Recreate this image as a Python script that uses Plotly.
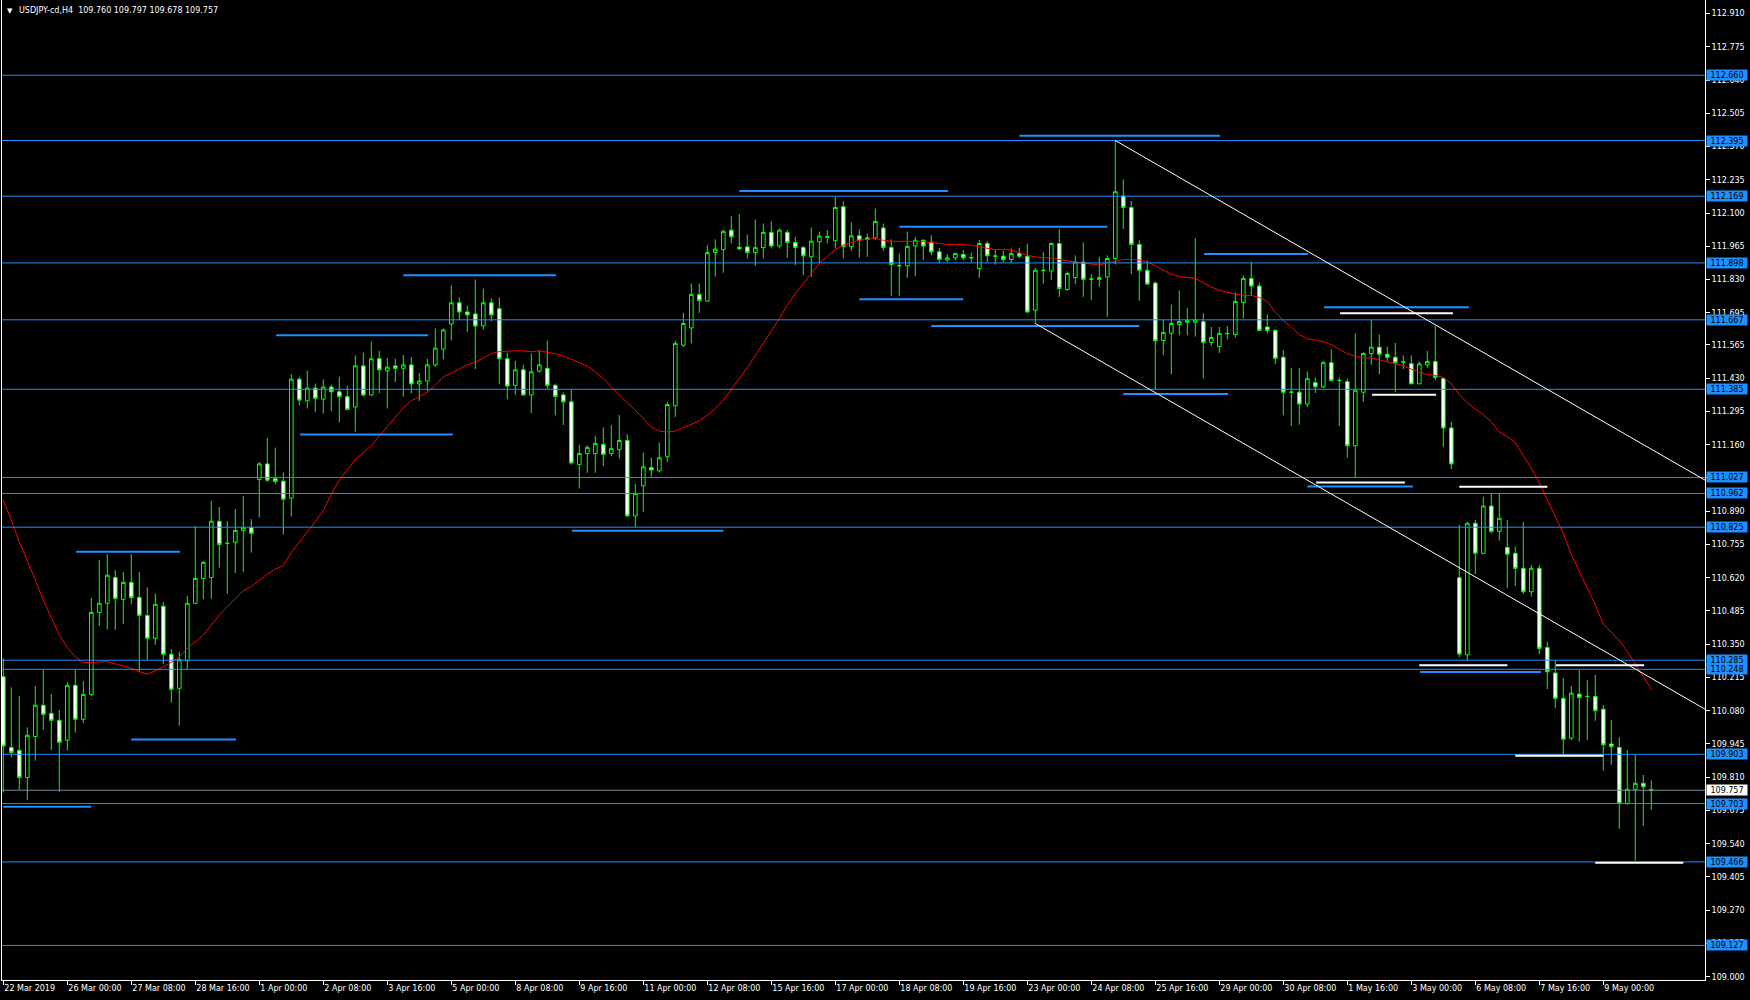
import plotly.graph_objects as go

SYMBOL = "USDJPY-cd,H4"

OPEN = [110.218,109.931,109.919,109.809,109.975,110.102,110.069,110.041,109.960,110.183,
110.045,110.146,110.479,110.516,110.621,110.532,110.601,110.540,110.467,110.374,
110.504,110.309,110.171,110.284,110.516,110.617,110.621,110.849,110.760,110.764,
110.812,110.823,111.019,111.082,111.022,111.012,110.943,111.426,111.338,111.390,
111.345,111.394,111.375,111.355,111.313,111.480,111.362,111.509,111.460,111.480,
111.470,111.484,111.407,111.419,111.484,111.548,111.650,111.736,111.699,111.691,
111.642,111.736,111.712,111.509,111.401,111.464,111.362,111.459,111.470,111.401,
111.362,111.334,111.080,111.124,111.124,111.161,111.124,111.140,111.177,110.871,
110.993,111.067,111.054,111.111,111.318,111.564,111.634,111.770,111.743,111.940,
111.952,112.031,111.962,111.963,111.940,111.960,112.022,111.967,112.022,111.981,
111.961,111.923,111.984,112.002,111.988,112.126,111.964,112.008,112.000,111.999,
112.040,111.961,111.886,111.886,111.967,111.990,111.983,111.943,111.910,111.919,
111.932,111.918,111.875,111.977,111.925,111.925,111.912,111.936,111.925,111.706,
111.866,111.865,111.977,111.790,111.839,111.902,111.831,111.831,111.841,111.916,
112.170,112.123,111.973,111.868,111.816,111.583,111.612,111.648,111.657,111.657,
111.660,111.575,111.558,111.611,111.607,111.737,111.835,111.804,111.638,111.624,
111.515,111.373,111.373,111.325,111.412,111.395,111.493,111.421,111.416,111.156,
111.373,111.530,111.556,111.527,111.515,111.496,111.489,111.407,111.484,111.498,
111.429,111.228,110.620,110.307,110.841,110.719,110.911,110.808,110.743,110.719,
110.658,110.563,110.658,110.337,110.233,110.130,109.968,110.147,110.138,110.138,
110.086,109.945,109.931,109.704,109.761,109.785,109.760]

HIGH = [110.293,110.175,110.140,110.012,110.180,110.245,110.148,110.083,110.196,110.245,
110.200,110.538,110.692,110.716,110.651,110.643,110.716,110.643,110.581,110.556,
110.521,110.330,110.320,110.546,110.830,110.688,110.932,110.907,110.850,110.899,
110.952,110.858,111.090,111.188,111.148,111.048,111.447,111.436,111.461,111.408,
111.425,111.404,111.436,111.400,111.522,111.534,111.579,111.541,111.512,111.509,
111.524,111.516,111.451,111.509,111.632,111.632,111.807,111.758,111.724,111.831,
111.794,111.754,111.758,111.534,111.500,111.484,111.530,111.544,111.583,111.408,
111.372,111.383,111.160,111.158,111.195,111.230,111.239,111.280,111.203,111.000,
111.128,111.107,111.169,111.334,111.582,111.695,111.814,111.814,111.970,111.994,
112.034,112.088,112.096,112.013,112.074,112.058,112.067,112.038,112.031,112.004,
111.966,112.042,112.024,112.031,112.166,112.149,112.062,112.034,112.017,112.119,
112.058,111.994,111.936,112.026,112.004,111.993,112.011,111.959,111.933,111.940,
111.950,111.940,111.991,111.986,111.950,111.947,111.957,111.959,111.977,111.878,
111.943,111.981,112.035,111.864,111.929,111.981,111.852,111.923,111.929,112.395,
112.237,112.150,111.990,111.908,111.823,111.669,111.729,111.787,111.715,111.997,
111.694,111.638,111.638,111.641,111.778,111.848,111.903,111.818,111.689,111.629,
111.544,111.472,111.472,111.458,111.433,111.501,111.547,111.433,111.428,111.612,
111.535,111.669,111.607,111.558,111.573,111.523,111.523,111.498,111.541,111.641,
111.433,111.253,110.834,110.846,110.854,110.949,110.963,110.963,110.854,110.746,
110.846,110.672,110.672,110.359,110.283,110.213,110.180,110.244,110.205,110.225,
110.103,110.042,109.972,109.920,109.900,109.819,109.797]

LOW = [109.748,109.891,109.758,109.717,109.877,110.002,109.920,109.751,109.918,109.991,
110.029,110.140,110.424,110.410,110.408,110.432,110.513,110.238,110.286,110.347,
110.270,110.113,110.019,110.249,110.513,110.532,110.535,110.661,110.556,110.638,
110.642,110.722,110.865,111.009,110.999,110.795,110.869,111.320,111.307,111.292,
111.286,111.296,111.251,111.300,111.212,111.356,111.359,111.369,111.307,111.414,
111.355,111.369,111.338,111.376,111.475,111.506,111.583,111.666,111.617,111.467,
111.628,111.660,111.405,111.344,111.363,111.359,111.288,111.453,111.387,111.279,
111.240,111.079,110.982,111.046,111.046,111.073,111.113,111.104,110.867,110.826,
110.887,111.030,111.047,111.090,111.273,111.557,111.571,111.695,111.740,111.842,
111.858,111.977,111.952,111.916,111.886,111.916,111.957,111.957,111.919,111.889,
111.848,111.842,111.898,111.977,111.957,111.916,111.947,111.920,111.923,111.990,
111.947,111.764,111.764,111.837,111.845,111.909,111.929,111.896,111.902,111.909,
111.909,111.900,111.837,111.902,111.891,111.900,111.898,111.916,111.695,111.652,
111.814,111.828,111.760,111.785,111.812,111.760,111.747,111.801,111.679,111.892,
112.035,111.852,111.744,111.809,111.385,111.523,111.446,111.604,111.604,111.599,
111.429,111.561,111.532,111.587,111.595,111.672,111.766,111.621,111.612,111.488,
111.279,111.236,111.241,111.313,111.370,111.390,111.416,111.236,111.108,111.027,
111.334,111.484,111.446,111.498,111.373,111.467,111.407,111.407,111.472,111.421,
111.151,111.062,110.297,110.283,110.635,110.715,110.800,110.770,110.579,110.586,
110.554,110.543,110.310,110.168,110.092,109.904,109.961,109.954,109.961,110.039,
109.837,109.860,109.600,109.697,109.471,109.612,109.678]

CLOSE = [109.937,109.910,109.809,109.980,110.102,110.065,110.041,109.951,110.183,110.045,
110.146,110.479,110.516,110.630,110.535,110.601,110.539,110.467,110.374,110.512,
110.309,110.167,110.287,110.516,110.617,110.682,110.849,110.755,110.759,110.812,
110.823,110.800,111.082,111.016,111.011,110.939,111.426,111.341,111.390,111.348,
111.394,111.375,111.355,111.303,111.480,111.362,111.509,111.464,111.475,111.470,
111.484,111.407,111.419,111.484,111.552,111.626,111.736,111.699,111.687,111.642,
111.736,111.687,111.509,111.398,111.464,111.362,111.456,111.484,111.401,111.356,
111.334,111.086,111.124,111.149,111.165,111.120,111.144,111.177,110.871,110.962,
111.070,111.057,111.107,111.323,111.571,111.652,111.770,111.745,111.940,111.954,
112.026,112.004,111.955,111.940,111.960,112.022,111.967,112.031,111.981,111.961,
111.927,111.986,112.007,112.005,112.123,111.964,112.008,111.990,111.993,112.066,
111.961,111.892,111.888,111.965,111.990,111.967,111.943,111.912,111.919,111.936,
111.919,111.920,111.977,111.927,111.926,111.912,111.936,111.925,111.699,111.868,
111.868,111.977,111.794,111.855,111.902,111.831,111.833,111.839,111.916,112.187,
112.123,111.973,111.868,111.812,111.582,111.616,111.652,111.660,111.664,111.667,
111.575,111.595,111.612,111.612,111.741,111.835,111.804,111.624,111.624,111.510,
111.373,111.373,111.325,111.428,111.395,111.493,111.421,111.421,111.156,111.381,
111.530,111.556,111.527,111.515,111.493,111.496,111.407,111.488,111.498,111.433,
111.228,111.082,110.310,110.841,110.719,110.911,110.808,110.861,110.715,110.658,
110.563,110.658,110.333,110.238,110.130,109.964,110.151,110.134,110.138,110.080,
109.942,109.934,109.704,109.761,109.785,109.771,109.757]

# moving average (red) read per bar
MA = [110.935,110.855,110.766,110.692,110.611,110.529,110.455,110.387,110.336,110.299,
110.276,110.275,110.278,110.279,110.270,110.261,110.252,110.238,110.229,110.241,
110.259,110.276,110.299,110.333,110.360,110.387,110.428,110.468,110.502,110.533,
110.567,110.584,110.611,110.635,110.655,110.670,110.722,110.762,110.806,110.848,
110.893,110.960,111.016,111.058,111.100,111.128,111.156,111.195,111.233,111.268,
111.310,111.338,111.355,111.373,111.401,111.436,111.450,111.467,111.485,111.495,
111.513,111.530,111.538,111.541,111.541,111.541,111.537,111.541,111.537,111.530,
111.520,111.506,111.494,111.479,111.456,111.429,111.395,111.361,111.330,111.300,
111.266,111.232,111.215,111.212,111.215,111.228,111.243,111.257,111.280,111.307,
111.341,111.384,111.429,111.473,111.521,111.571,111.618,111.672,111.726,111.774,
111.814,111.855,111.896,111.925,111.952,111.970,111.979,111.990,111.994,111.997,
111.990,111.986,111.986,111.986,111.986,111.984,111.981,111.977,111.973,111.973,
111.973,111.970,111.963,111.957,111.952,111.952,111.950,111.940,111.929,111.923,
111.919,111.919,111.912,111.906,111.902,111.898,111.893,111.889,111.898,111.905,
111.912,111.912,111.910,111.903,111.886,111.869,111.852,111.843,111.840,111.835,
111.818,111.800,111.787,111.778,111.771,111.766,111.766,111.758,111.741,111.698,
111.664,111.638,111.607,111.590,111.583,111.578,111.566,111.547,111.530,111.518,
111.513,111.513,111.506,111.496,111.488,111.481,111.467,111.453,111.445,111.441,
111.433,111.407,111.364,111.330,111.305,111.282,111.253,111.211,111.193,111.168,
111.116,111.065,111.005,110.937,110.868,110.800,110.715,110.646,110.578,110.509,
110.432,110.398,110.364,110.321,110.270,110.218,110.167]

X_TICK_LABELS = ["22 Mar 2019", "26 Mar 00:00", "27 Mar 08:00", "28 Mar 16:00", "1 Apr 00:00",
                 "2 Apr 08:00", "3 Apr 16:00", "5 Apr 00:00", "8 Apr 08:00", "9 Apr 16:00",
                 "11 Apr 00:00", "12 Apr 08:00", "15 Apr 16:00", "17 Apr 00:00", "18 Apr 08:00",
                 "19 Apr 16:00", "23 Apr 00:00", "24 Apr 08:00", "25 Apr 16:00", "29 Apr 00:00",
                 "30 Apr 08:00", "1 May 16:00", "3 May 00:00", "6 May 08:00", "7 May 16:00",
                 "9 May 00:00"]
BARS_PER_LABEL = 8

Y_TICK_LABELS = ["109.000", "109.135", "109.270", "109.405", "109.540", "109.675", "109.810",
                 "109.945", "110.080", "110.215", "110.350", "110.485", "110.620", "110.755",
                 "110.890", "111.025", "111.160", "111.295", "111.430", "111.565", "111.695",
                 "111.830", "111.965", "112.100", "112.235", "112.370", "112.505", "112.640",
                 "112.775", "112.910"]

# full-width horizontal levels
LEVELS = [112.660, 112.395, 112.169, 111.898, 111.667, 111.385, 111.027, 110.962,
          110.825, 110.285, 110.248, 109.903, 109.703, 109.466, 109.127]

# short drawn segments: (price, from bar, to bar)
BLUE_SEGMENTS = [(110.725, 9.1, 22.1), (109.963, 16.0, 29.1), (109.690, 0.0, 11.0),
                 (111.848, 50.0, 69.1), (111.604, 34.1, 53.1), (111.201, 37.1, 56.2),
                 (110.811, 71.1, 90.0), (112.190, 92.0, 118.1), (112.045, 112.0, 138.0),
                 (111.751, 107.0, 120.0), (111.642, 116.0, 142.0), (112.414, 127.0, 152.1),
                 (111.366, 140.0, 153.1), (111.934, 150.1, 163.1), (111.718, 165.1, 183.2),
                 (110.990, 163.0, 176.2), (110.237, 177.1, 192.2)]
WHITE_SEGMENTS = [(111.694, 167.1, 181.2), (111.363, 171.1, 179.1), (111.006, 164.1, 175.2),
                  (110.989, 182.0, 193.0), (110.265, 177.0, 188.0), (110.265, 194.1, 205.1),
                  (109.897, 189.0, 200.0), (109.463, 199.0, 210.0)]

# channel trend lines (two anchors each, drawn as rays to the right)
TRENDS = [((139, 112.395), (200, 111.254)),
          ((129, 111.652), (200, 110.324))]

BLUE = "#1E90FF"
XMIN, XMAX = -0.1625, 212.7125
YMIN, YMAX = 108.9866, 112.9655
FONT = "DejaVu Sans"

n = len(CLOSE)
xs = list(range(n))

fig = go.Figure()
fig.add_trace(go.Candlestick(
    x=xs, open=OPEN, high=HIGH, low=LOW, close=CLOSE,
    increasing=dict(line=dict(color="#00FF00", width=1), fillcolor="#000000"),
    decreasing=dict(line=dict(color="#00FF00", width=1), fillcolor="#FFFFFF"),
    whiskerwidth=0, hoverinfo="skip", showlegend=False))
fig.add_trace(go.Scatter(x=list(range(len(MA))), y=MA, mode="lines",
                         line=dict(color="#FF0000", width=1),
                         hoverinfo="skip", showlegend=False))

shapes = []
for lv in LEVELS:
    shapes.append(dict(type="line", xref="paper", x0=0, x1=1, yref="y", y0=lv, y1=lv,
                       line=dict(color=BLUE, width=1), layer="above"))
bid = CLOSE[-1]
shapes.append(dict(type="line", xref="paper", x0=0, x1=1, yref="y", y0=bid, y1=bid,
                   line=dict(color="#778899", width=1), layer="above"))
for p, a, b in BLUE_SEGMENTS:
    shapes.append(dict(type="line", xref="x", x0=a, x1=b, yref="y", y0=p, y1=p,
                       line=dict(color=BLUE, width=2), layer="above"))
for p, a, b in WHITE_SEGMENTS:
    shapes.append(dict(type="line", xref="x", x0=a, x1=b, yref="y", y0=p, y1=p,
                       line=dict(color="#FFFFFF", width=2), layer="above"))
for (x1, y1), (x2, y2) in TRENDS:
    slope = (y2 - y1) / (x2 - x1)
    shapes.append(dict(type="line", xref="x", x0=x1, x1=XMAX, yref="y", y0=y1,
                       y1=y1 + slope * (XMAX - x1),
                       line=dict(color="#FFFFFF", width=1), layer="above"))

annotations = []
for lv in LEVELS:
    annotations.append(dict(xref="paper", x=1, xanchor="left", xshift=1, yref="y", y=lv,
                            yanchor="middle", text=f"{lv:.3f}", showarrow=False,
                            bgcolor=BLUE, font=dict(family=FONT, size=8, color="#000000"),
                            width=40, height=10, borderpad=0, align="center"))
annotations.append(dict(xref="paper", x=1, xanchor="left", xshift=1, yref="y", y=bid,
                        yanchor="middle", text=f"{bid:.3f}", showarrow=False,
                        bgcolor="#FFFFFF", font=dict(family=FONT, size=8, color="#000000"),
                        width=40, height=10, borderpad=0, align="center"))
annotations.append(dict(xref="paper", x=0, xanchor="left", xshift=3, yref="paper", y=1,
                        yanchor="middle", yshift=-10.5, text="▼", showarrow=False,
                        font=dict(family=FONT, size=7, color="#FFFFFF")))
title = (f"{SYMBOL}\u00a0\u00a0{OPEN[-1]:.3f} {HIGH[-1]:.3f} {LOW[-1]:.3f} {CLOSE[-1]:.3f}")
annotations.append(dict(xref="paper", x=0, xanchor="left", xshift=15, yref="paper", y=1,
                        yanchor="middle", yshift=-10.5, text=title, showarrow=False,
                        font=dict(family=FONT, size=8, color="#FFFFFF")))

tickvals_x = list(range(0, len(X_TICK_LABELS) * BARS_PER_LABEL, BARS_PER_LABEL))

fig.update_layout(
    template="none",
    width=1750, height=1000,
    margin=dict(l=2, r=45, t=0, b=20, pad=0),
    paper_bgcolor="#000000", plot_bgcolor="#000000",
    boxgap=0.35, boxgroupgap=0.3,
    font=dict(family=FONT, size=8, color="#FFFFFF"),
    showlegend=False,
    shapes=shapes, annotations=annotations,
    xaxis=dict(range=[XMIN, XMAX], rangeslider=dict(visible=False),
               tickmode="array", tickvals=tickvals_x, ticktext=X_TICK_LABELS,
               ticks="outside", ticklen=4, tickwidth=1, tickcolor="#FFFFFF",
               ticklabelposition="outside right",
               tickfont=dict(family=FONT, size=8, color="#FFFFFF"),
               showline=True, linecolor="#FFFFFF", linewidth=1,
               showgrid=False, zeroline=False, fixedrange=True),
    yaxis=dict(side="right", range=[YMIN, YMAX],
               tickmode="array", tickvals=[float(t) for t in Y_TICK_LABELS],
               ticktext=Y_TICK_LABELS,
               ticks="outside", ticklen=4, tickwidth=1, tickcolor="#FFFFFF",
               tickfont=dict(family=FONT, size=8, color="#FFFFFF"),
               showline=True, linecolor="#FFFFFF", linewidth=1, mirror=True,
               showgrid=False, zeroline=False, fixedrange=True),
)

fig.write_html(
    "out.html",
    config={"displayModeBar": False},
    post_script=("document.body.style.margin='0';document.body.style.padding='0';"
                 "document.body.style.background='#000';"
                 "document.documentElement.style.overflow='hidden';"),
)
